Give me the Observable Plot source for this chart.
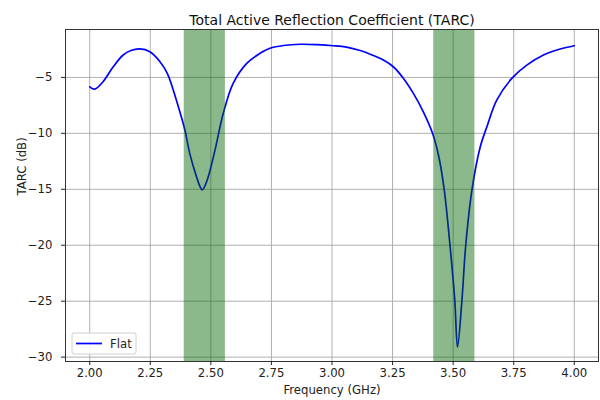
<!DOCTYPE html>
<html>
<head>
<meta charset="utf-8">
<script src="https://cdn.jsdelivr.net/npm/d3@7"></script>
<script src="https://cdn.jsdelivr.net/npm/@observablehq/plot@0.6"></script>
<style>
  html, body { margin: 0; padding: 0; background: white; }
  #chart { width: 600px; height: 400px; }
</style>
</head>
<body>
<div id="chart"></div>
<script>
// ---- data ----
const freq = [2.000,2.021,2.055,2.097,2.138,2.170,2.207,2.248,2.290,2.320,2.345,2.372,2.393,2.413,2.441,2.455,2.464,2.473,2.489,2.517,2.551,2.592,2.648,2.703,2.744,2.800,2.868,2.940,3.005,3.060,3.116,3.160,3.212,3.253,3.295,3.336,3.377,3.415,3.440,3.463,3.487,3.507,3.518,3.536,3.552,3.578,3.612,3.639,3.680,3.742,3.804,3.873,3.942,4.000];
const tarc = [-5.84,-6.05,-5.39,-4.05,-3.0,-2.6,-2.46,-2.71,-3.6,-4.64,-6.14,-8.08,-9.72,-11.81,-13.9,-14.75,-15.05,-14.8,-13.9,-11.5,-8.23,-5.54,-3.75,-2.85,-2.4,-2.15,-2.04,-2.08,-2.17,-2.3,-2.6,-2.95,-3.45,-4.05,-5.09,-6.43,-8.08,-10.0,-12.0,-15.0,-20.0,-25.0,-29.1,-25.0,-20.0,-15.0,-11.2,-9.43,-7.03,-5.09,-3.9,-3.0,-2.46,-2.17];
const bandStart = [2.39, 3.42];
const bandEnd = [2.56, 3.59];
const xTicks = [2.00,2.25,2.50,2.75,3.00,3.25,3.50,3.75,4.00];
const yTicks = [-30,-25,-20,-15,-10,-5];
const seriesName = "Flat";
const titleText = "Total Active Reflection Coefficient (TARC)";
const xLabel = "Frequency (GHz)";
const yLabel = "TARC (dB)";

const data = freq.map((f, i) => ({f, v: tarc[i]}));
const bands = bandStart.map((s, i) => ({s, e: bandEnd[i]}));

const font = "DejaVu Sans";
const plot = Plot.plot({
  width: 600,
  height: 400,
  marginLeft: 65,
  marginRight: 2,
  marginTop: 29,
  marginBottom: 39,
  style: {fontFamily: font, fontSize: "11.7px", background: "white", color: "#222"},
  x: {domain: [1.9, 4.1], label: null},
  y: {domain: [-30.39, -0.72], label: null},
  marks: [
    Plot.gridX(xTicks, {stroke: "#b0b0b0", strokeOpacity: 1, strokeWidth: 1}),
    Plot.gridY(yTicks, {stroke: "#b0b0b0", strokeOpacity: 1, strokeWidth: 1}),
    Plot.line(data, {x: "f", y: "v", stroke: "#0000ff", strokeWidth: 1.7, curve: "catmull-rom"}),
    Plot.rect(bands, {x1: "s", x2: "e", fill: "#006400", fillOpacity: 0.45}),
    Plot.frame({stroke: "#333", strokeWidth: 1}),
    Plot.axisX(xTicks, {tickSize: 4, tickPadding: 3, tickFormat: d3.format(".2f"), fontSize: 11.7, label: null}),
    Plot.axisY(yTicks, {tickSize: 4, tickPadding: 9, tickFormat: d3.format("d"), fontSize: 11.7, label: null}),
    Plot.text([titleText], {frameAnchor: "top", dy: -14, text: d => d, fontSize: 14, fill: "#111"}),
    Plot.text([xLabel], {frameAnchor: "bottom", dy: 32, text: d => d, fontSize: 11.7, fill: "#222"}),
    Plot.text([yLabel], {frameAnchor: "left", dx: -43, rotate: -90, text: d => d, fontSize: 11.7, fill: "#222"})
  ]
});
document.getElementById("chart").appendChild(plot);

// legend (bottom-left inside frame)
const svg = d3.select(plot);
const lg = svg.append("g").attr("text-anchor", "start");
lg.append("rect").attr("x", 72).attr("y", 333).attr("width", 64).attr("height", 21)
  .attr("rx", 2).attr("fill", "white").attr("fill-opacity", 0.85).attr("stroke", "#d0d0d0");
lg.append("line").attr("x1", 76).attr("x2", 102).attr("y1", 343.5).attr("y2", 343.5)
  .attr("stroke", "#0000ff").attr("stroke-width", 1.7);
lg.append("text").attr("x", 110).attr("y", 343.5).attr("dy", "0.35em").attr("text-anchor", "start")
  .attr("font-family", font).attr("font-size", 11.7).attr("fill", "#222").text(seriesName);
</script>
</body>
</html>
